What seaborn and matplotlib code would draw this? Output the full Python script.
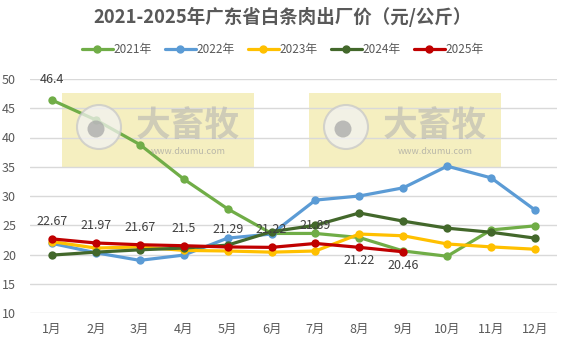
import matplotlib
matplotlib.use("Agg")
import matplotlib.pyplot as plt
import matplotlib.patches as mpatches
from matplotlib.lines import Line2D
import seaborn as sns
import pandas as pd

sns.set_theme(style="white")
plt.rcParams['font.family'] = ['Noto Sans CJK SC', 'DejaVu Sans']

months = ["1月", "2月", "3月", "4月", "5月", "6月", "7月", "8月", "9月", "10月", "11月", "12月"]
years = ["2021年", "2022年", "2023年", "2024年", "2025年"]
price_2021 = [46.4, 43.0, 38.8, 32.9, 27.8, 23.6, 23.6, 22.9, 20.6, 19.7, 24.2, 24.9]
price_2022 = [21.9, 20.3, 19.0, 19.9, 22.8, 23.5, 29.3, 30.0, 31.4, 35.1, 33.1, 27.6]
price_2023 = [22.2, 21.1, 21.3, 20.7, 20.6, 20.4, 20.6, 23.5, 23.2, 21.8, 21.3, 20.9]
price_2024 = [19.9, 20.4, 20.8, 21.1, 21.6, 23.9, 25.0, 27.1, 25.7, 24.5, 23.8, 22.8]
price_2025 = [22.67, 21.97, 21.67, 21.5, 21.29, 21.22, 21.89, 21.22, 20.46]
colors = ["#70AD47", "#5B9BD5", "#FFC000", "#43682B", "#C00000"]

series = [price_2021, price_2022, price_2023, price_2024, price_2025]
rows = []
for yr, vals in zip(years, series):
    for i, v in enumerate(vals):
        rows.append({"month": i, "year": yr, "price": v})
df = pd.DataFrame(rows)

fig = plt.figure(figsize=(5.66, 3.44), dpi=100)
ax = fig.add_axes([30 / 566, 1 - 313 / 344, 527 / 566, 234 / 344])
ax.set_facecolor("none")

sns.lineplot(data=df, x="month", y="price", hue="year", hue_order=years,
             palette=colors, marker="o", markersize=6, markeredgewidth=0,
             linewidth=2.3, ax=ax, legend=False, zorder=3)

ax.set_xlim(-0.5, 11.5)
ax.set_ylim(10, 50)
ax.set_yticks(range(10, 51, 5))
ax.set_xticks(range(12))
ax.set_xticklabels(months)
ax.set_xlabel("")
ax.set_ylabel("")
ax.grid(axis="y", color="#D9D9D9", linewidth=1)
ax.set_axisbelow(True)
for s in ax.spines.values():
    s.set_visible(False)
ax.tick_params(axis="both", length=0, labelsize=9, colors="#595959")
ax.tick_params(axis="y", pad=10)
ax.tick_params(axis="x", pad=7)

# value labels
ax.annotate("46.4", (0, price_2021[0]), xytext=(0, 10), textcoords="offset points",
            ha="center", va="bottom", fontsize=9, color="#404040")
for i, v in enumerate(price_2025):
    if i < 7:
        ax.annotate(f"{v:g}", (i, v), xytext=(0, 8), textcoords="offset points",
                    ha="center", va="bottom", fontsize=9, color="#404040")
    else:
        ax.annotate(f"{v:g}", (i, v), xytext=(0, -5), textcoords="offset points",
                    ha="center", va="top", fontsize=9, color="#404040")

# watermark panels: yellow card behind the plot, logo and text over it
def watermark(x0):
    fig.patches.append(mpatches.Rectangle((x0 / 566, 1 - 168 / 344), 192 / 566, 75 / 344,
                                          transform=fig.transFigure, facecolor="#F5EFC0",
                                          edgecolor="none", zorder=-1))
    cx, cy = (x0 + 37) / 566, 1 - 127 / 344
    fig.patches.append(mpatches.Ellipse((cx, cy), 44 / 566, 44 / 344, transform=fig.transFigure,
                                        facecolor="#F2F2F2", edgecolor="#C8C8C8", linewidth=1.5,
                                        alpha=0.75, zorder=6))
    fig.patches.append(mpatches.Ellipse(((x0 + 34) / 566, 1 - 129 / 344), 17 / 566, 17 / 344,
                                        transform=fig.transFigure, facecolor="#A8A8A8",
                                        edgecolor="none", alpha=0.75, zorder=7))
    fig.text((x0 + 126) / 566, 1 - 125 / 344, "大畜牧", ha="center", va="center",
             fontsize=25, fontweight="bold", color="#B0B0B0", alpha=0.55, zorder=7)
    fig.text((x0 + 126) / 566, 1 - 151 / 344, "www.dxumu.com", ha="center", va="center",
             fontsize=6.5, color="#A0A0A0", alpha=0.7, zorder=7)

watermark(62)
watermark(309)

fig.text(0.5, 1 - 17 / 344, "2021-2025年广东省白条肉出厂价（元/公斤）", ha="center", va="center",
         fontsize=13.3, fontweight="bold", color="#595959")

handles = [Line2D([0], [0], color=c, linewidth=2.3, marker="o", markersize=5) for c in colors]
fig.legend(handles, years, loc="center", bbox_to_anchor=(0.5, 1 - 50 / 344), ncol=5,
           frameon=False, fontsize=8.5, handlelength=2.6, columnspacing=1.1,
           handletextpad=0.1, labelcolor="#595959")

fig.savefig("out.png", dpi=100)
